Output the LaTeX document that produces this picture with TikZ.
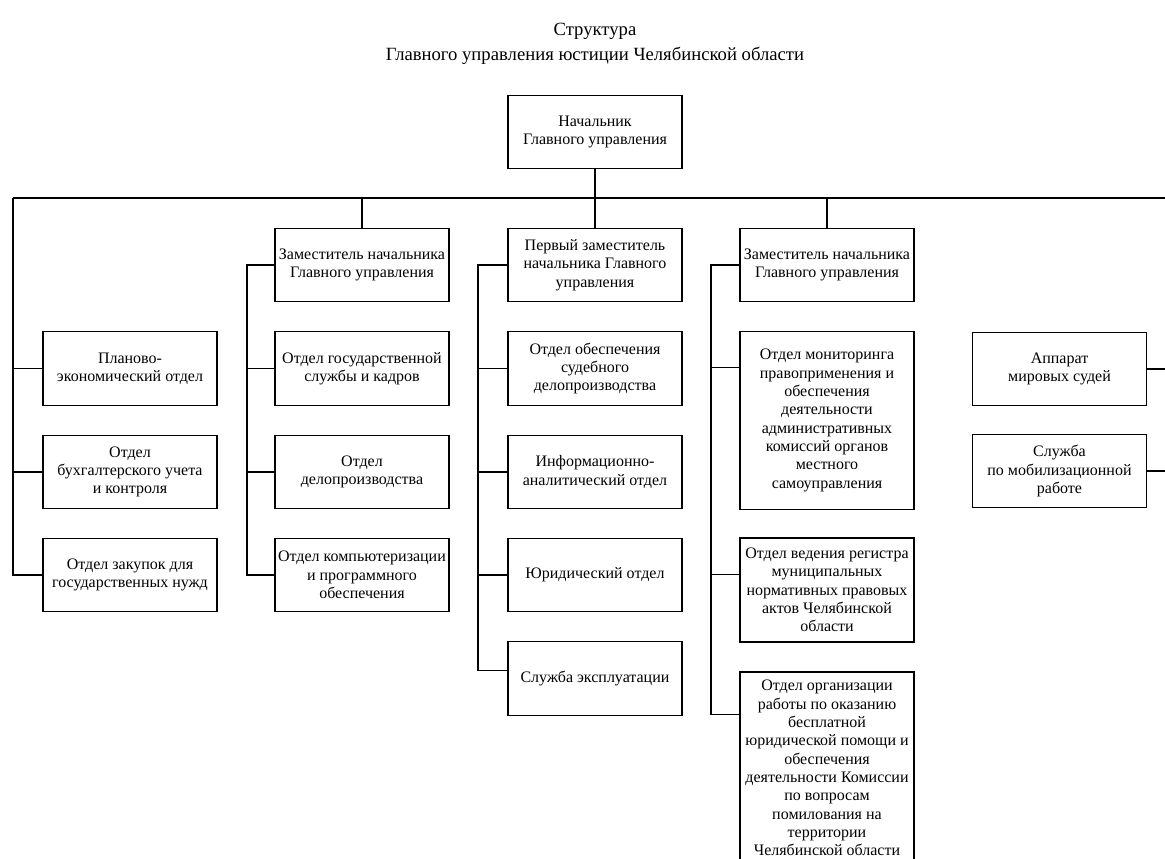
\documentclass[tikz,border=0pt]{standalone}
\usepackage{fontspec}
\setmainfont{Liberation Serif}
\usetikzlibrary{calc}

\begin{document}
\begin{tikzpicture}[x=0.75pt,y=-0.75pt,
  box/.style={draw,line width=0.9pt,minimum width=130.5pt,minimum height=55pt,
    align=center,inner sep=1pt,font=\fontsize{12}{13.75}\selectfont},
  link/.style={line width=0.8pt}]
\useasboundingbox (0,0) rectangle (1165,859);

% title
\node[align=center,font=\fontsize{14}{18.75}\selectfont] (title) at (595,44)
  {Структура\\Главного управления юстиции Челябинской области};

% head and deputies
\node[box] (head) at (595,132) {Начальник\\Главного управления};
\node[box] (dep2) at (362,265) {Заместитель начальника\\Главного управления};
\node[box] (dep1) at (595,265) {Первый заместитель\\начальника Главного\\управления};
\node[box] (dep3) at (827,265) {Заместитель начальника\\Главного управления};

% left column
\node[box] (plan) at (130,368.5) {Планово-\\экономический отдел};
\node[box] (buh) at (130,472) {Отдел\\бухгалтерского учета\\и контроля};
\node[box] (zak) at (130,575) {Отдел закупок для\\государственных нужд};

% second column
\node[box] (kadr) at (362,368.5) {Отдел государственной\\службы и кадров};
\node[box] (delo) at (362,472) {Отдел\\делопроизводства};
\node[box] (komp) at (362,575) {Отдел компьютеризации\\и программного\\обеспечения};

% third column
\node[box] (sud) at (595,368.5) {Отдел обеспечения\\судебного\\делопроизводства};
\node[box] (info) at (595,472) {Информационно-\\аналитический отдел};
\node[box] (yur) at (595,575) {Юридический отдел};
\node[box] (expl) at (595,678.5) {Служба эксплуатации};

% fourth column
\node[box,minimum height=133pt] (mon) at (827,420.5) {Отдел мониторинга\\правоприменения и\\обеспечения\\деятельности\\административных\\комиссий органов\\местного\\самоуправления};
\node[box,minimum height=78pt] (reg) at (827,590) {Отдел ведения регистра\\муниципальных\\нормативных правовых\\актов Челябинской\\области};
\node[box,minimum height=144pt] (org) at (827,768) {Отдел организации\\работы по оказанию\\бесплатной\\юридической помощи и\\обеспечения\\деятельности Комиссии\\по вопросам\\помилования на\\территории\\Челябинской области};

% right column
\node[box] (mir) at (1059.5,369) {Аппарат\\мировых судей};
\node[box] (mob) at (1059.5,471) {Служба\\по мобилизационной\\работе};

% bus
\coordinate (busL) at (13,198);
\coordinate (busR) at (1168,198);
\draw[link] (busL) -- (busR);
\draw[link] (head.south) -- (dep1.north);
\draw[link] (dep2.north) -- (dep2.north |- busL);
\draw[link] (dep3.north) -- (dep3.north |- busL);

% left and right branches
\draw[link] (busL) |- (plan.west);
\draw[link] (busL) |- (buh.west);
\draw[link] (busL) |- (zak.west);
\draw[link] (busR) |- (mir.east);
\draw[link] (busR) |- (mob.east);

% deputies' branches
\coordinate (c2) at (247,265);
\draw[link] (dep2.west) -- (c2) |- (kadr.west);
\draw[link] (c2) |- (delo.west);
\draw[link] (c2) |- (komp.west);

\coordinate (c3) at (478,265);
\draw[link] (dep1.west) -- (c3) |- (sud.west);
\draw[link] (c3) |- (info.west);
\draw[link] (c3) |- (yur.west);
\draw[link] (c3) |- ($(expl.north west)+(0,29)$);

\coordinate (c4) at (711,265);
\draw[link] (dep3.west) -- (c4) |- ($(mon.north west)+(0,36)$);
\draw[link] (c4) |- ($(reg.north west)+(0,37)$);
\draw[link] (c4) |- ($(org.north west)+(0,43)$);
\end{tikzpicture}
\end{document}
